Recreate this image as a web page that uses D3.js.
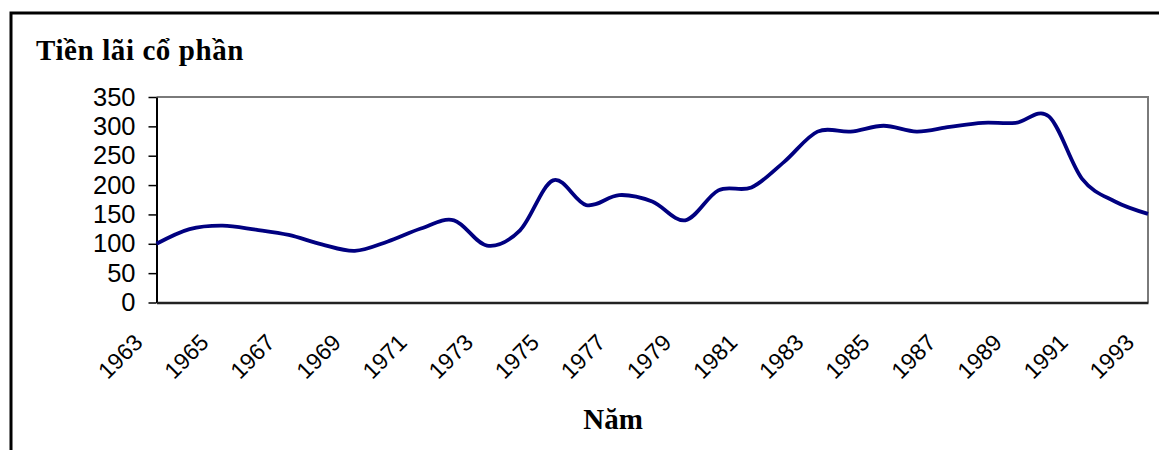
<!DOCTYPE html>
<html>
<head>
<meta charset="utf-8">
<script src="https://cdn.jsdelivr.net/npm/d3@7"></script>
<style>
  body { margin: 0; background: #fff; }
  svg { display: block; }
</style>
</head>
<body>
<svg id="chart"></svg>
<script>
// data
var years = d3.range(1963, 1994);
var dividends = [100, 125, 131, 124, 115, 99, 88, 104, 126, 140,
                 97, 123, 208, 166, 183, 172, 140, 191, 196, 240,
                 291, 291, 301, 291, 299, 306, 306, 317, 211, 172, 151];
var yTicks = [0, 50, 100, 150, 200, 250, 300, 350];
var xLabels = d3.range(1963, 1994, 2);

var svg_width = 1159,
    svg_height = 450;
var plot = {left: 156.5, right: 1148, top: 97, bottom: 302.5};

var svg = d3.select("#chart")
    .attr("width", svg_width)
    .attr("height", svg_height);

// outer frame (only top and left visible in the picture)
svg.append("path")
    .attr("d", "M11,460V13H1170")
    .attr("fill", "none")
    .attr("stroke", "#000")
    .attr("stroke-width", 3);

// scales
var x = d3.scaleLinear()
    .domain([1963, 1993])
    .range([plot.left, plot.right]);

var y = d3.scaleLinear()
    .domain([0, 350])
    .range([plot.bottom, plot.top]);

// plot border: grey top and right
svg.append("path")
    .attr("d", "M" + plot.left + "," + plot.top + "H" + plot.right + "V" + plot.bottom)
    .attr("fill", "none")
    .attr("stroke", "#7a7a7a")
    .attr("stroke-width", 2);

// y axis
var yAxis = svg.append("g")
    .attr("transform", "translate(" + plot.left + ",0)")
    .call(d3.axisLeft(y).tickValues(yTicks).tickSize(8).tickPadding(13).tickSizeOuter(0));
yAxis.select(".domain").attr("stroke", "#000").attr("stroke-width", 2);
yAxis.selectAll(".tick line").attr("stroke", "#000").attr("stroke-width", 1.5);
yAxis.selectAll("text")
    .style("font-family", "'Liberation Sans', Arial, sans-serif")
    .style("font-size", "25.5px")
    .attr("fill", "#000");

// x axis
var xAxis = svg.append("g")
    .attr("transform", "translate(0," + plot.bottom + ")")
    .call(d3.axisBottom(x).tickValues(xLabels).tickFormat(d3.format("d")).tickSize(0).tickSizeOuter(0));
xAxis.select(".domain").attr("stroke", "#222").attr("stroke-width", 2.5);
xAxis.selectAll("text")
    .attr("x", 0)
    .attr("y", 0)
    .attr("dy", 0)
    .attr("transform", "translate(-13,41.5) rotate(-45)")
    .style("text-anchor", "end")
    .style("font-family", "'Liberation Sans', Arial, sans-serif")
    .style("font-size", "23px")
    .attr("fill", "#000");

// line
var line = d3.line()
    .x((d, i) => x(years[i]))
    .y(d => y(d))
    .curve(d3.curveCardinal.tension(0));

svg.append("path")
    .datum(dividends)
    .attr("d", line)
    .attr("fill", "none")
    .attr("stroke", "#000080")
    .attr("stroke-width", 3.8)
    .attr("stroke-linejoin", "round");

// Title
svg.append("text")
    .text("Tiền lãi cổ phần")
    .attr("x", 36)
    .attr("y", 60)
    .style("font-family", "'Liberation Serif', 'Times New Roman', serif")
    .style("font-weight", "bold")
    .style("font-size", "29px")
    .style("letter-spacing", "0.6px");

// X-axis label
svg.append("text")
    .text("Năm")
    .attr("x", 613)
    .attr("y", 429)
    .style("text-anchor", "middle")
    .style("font-family", "'Liberation Serif', 'Times New Roman', serif")
    .style("font-weight", "bold")
    .style("font-size", "29px");
</script>
</body>
</html>
